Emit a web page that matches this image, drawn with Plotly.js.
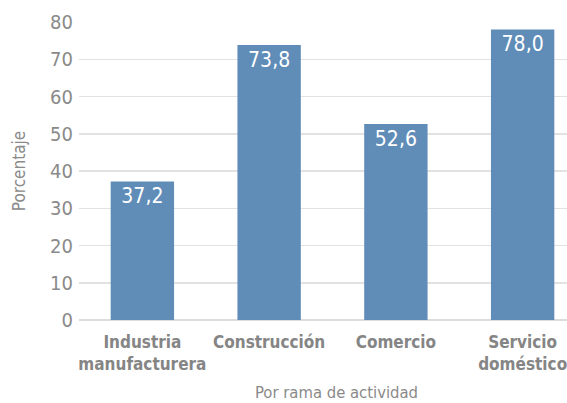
<!DOCTYPE html>
<html>
<head>
<meta charset="utf-8">
<script src="https://cdn.plot.ly/plotly-3.0.1.min.js"></script>
<style>html,body{margin:0;padding:0;background:#fff;}#chart{width:567px;height:403px;}</style>
</head>
<body>
<div id="chart"></div>
<script>
const categories = ["Industria<br>manufacturera", "Construcción", "Comercio", "Servicio<br>doméstico"];
const values = [37.2, 73.8, 52.6, 78.0];
const yTicks = [0, 10, 20, 30, 40, 50, 60, 70, 80];
const xTitle = 'Por rama de actividad';
const yTitle = 'Porcentaje';

const FONT = "'DejaVu Sans Condensed', 'Liberation Sans Narrow', sans-serif";

const trace = {
  type: 'bar',
  x: categories,
  y: values,
  marker: {color: '#608cb8'},
  texttemplate: '%{y:.1f}',
  textposition: 'inside',
  insidetextanchor: 'end',
  constraintext: 'none',
  textfont: {family: FONT, size: 21, color: '#ffffff'},
  hoverinfo: 'none',
  cliponaxis: false
};

const layout = {
  width: 567, height: 403,
  margin: {l: 79, r: 0, t: 22, b: 83},
  paper_bgcolor: '#ffffff', plot_bgcolor: '#ffffff',
  separators: ',.',
  bargap: 0.5,
  showlegend: false,
  font: {family: FONT, color: '#8a8a8a'},
  xaxis: {
    type: 'category',
    range: [-0.5, 3.35],
    tickangle: 0,
    automargin: false,
    ticklabelstandoff: 10,
    showgrid: false, zeroline: false, showline: false, ticks: '',
    tickfont: {family: FONT, size: 17, color: '#858585', weight: 'bold'}
  },
  yaxis: {
    range: [0, 80],
    automargin: false,
    ticklabelstandoff: 5,
    tickvals: yTicks,
    ticktext: yTicks.map(String),
    showgrid: true, gridcolor: '#e2e2e2', gridwidth: 1.5,
    zeroline: true, zerolinecolor: '#dcdcdc', zerolinewidth: 1.5,
    showline: false, ticks: '', ticklen: 0,
    tickfont: {family: FONT, size: 20, color: '#8a8a8a'},
    title: {text: yTitle, font: {family: FONT, size: 17, color: '#8a8a8a'}, standoff: 20}
  },
  annotations: [{
    text: xTitle, showarrow: false,
    xref: 'paper', yref: 'paper', x: 0.527, y: -0.243,
    xanchor: 'center', yanchor: 'middle',
    font: {family: FONT, size: 16.5, color: '#8a8a8a'}
  }]
};

Plotly.newPlot('chart', [trace], layout, {displayModeBar: false, staticPlot: true});
</script>
</body>
</html>
